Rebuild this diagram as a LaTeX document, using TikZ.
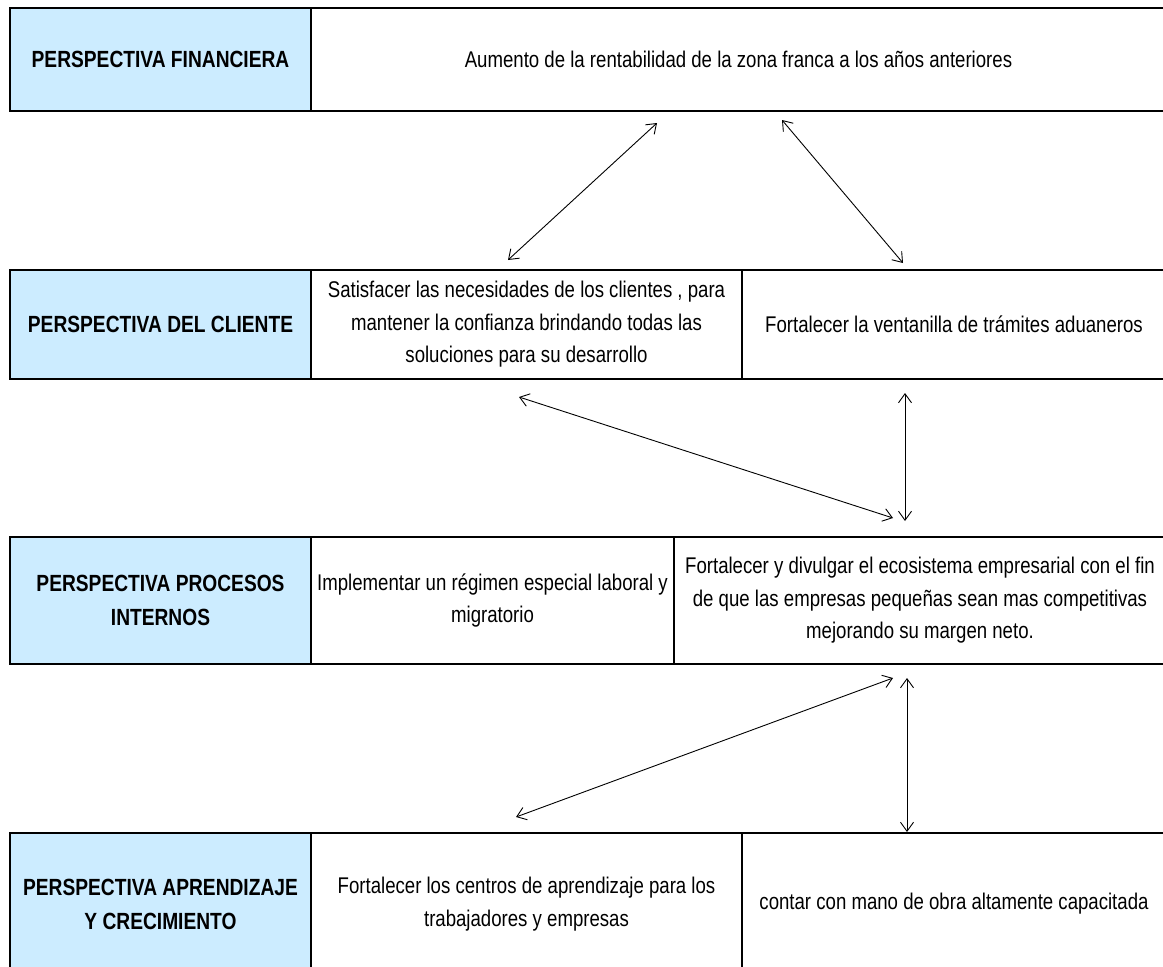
\documentclass[tikz,border=0pt]{standalone}
\usepackage{fontspec}
\setmainfont{Liberation Sans}[FakeStretch=0.82]
\usetikzlibrary{arrows.meta}
\definecolor{lblue}{RGB}{204,236,255}
\begin{document}
\begin{tikzpicture}[x=1pt,y=-1pt,
  cell/.style={draw=black, line width=2.2pt, inner sep=0pt, outer sep=0pt, anchor=north west, align=center, font=\fontsize{22.7}{32.5}\selectfont},
  lab/.style={cell, fill=lblue, font=\fontsize{23.4}{34}\selectfont\bfseries},
  link/.style={line width=0.9pt, {Straight Barb[length=9pt,width=13pt]}-{Straight Barb[length=9pt,width=13pt]}}]
\useasboundingbox[fill=white] (0,0) rectangle (1163,967);
% row 1
\node[lab, minimum width=301pt, minimum height=103pt] (fin) at (10,8) {PERSPECTIVA FINANCIERA};
\node[cell, minimum width=855pt, minimum height=103pt] (finA) at (311,8) {Aumento de la rentabilidad de la zona franca a los años anteriores};
% row 2
\node[lab, minimum width=301pt, minimum height=109pt] (cli) at (10,270) {PERSPECTIVA DEL CLIENTE};
\node[cell, minimum width=431pt, minimum height=109pt] (cliA) at (311,270) {Satisfacer las necesidades de los clientes , para\\mantener la confianza brindando todas las\\soluciones para su desarrollo};
\node[cell, minimum width=424pt, minimum height=109pt] (cliB) at (742,270) {Fortalecer la ventanilla de trámites aduaneros};
% row 3
\node[lab, minimum width=301pt, minimum height=127pt] (pro) at (10,537) {PERSPECTIVA PROCESOS\\INTERNOS};
\node[cell, minimum width=363pt, minimum height=127pt] (proA) at (311,537) {Implementar un régimen especial laboral y\\migratorio};
\node[cell, minimum width=492pt, minimum height=127pt] (proB) at (674,537) {Fortalecer y divulgar el ecosistema empresarial con el fin\\de que las empresas pequeñas sean mas competitivas\\mejorando su margen neto.};
% row 4
\node[lab, minimum width=301pt, minimum height=142pt] (apr) at (10,833) {PERSPECTIVA APRENDIZAJE\\Y CRECIMIENTO};
\node[cell, minimum width=431pt, minimum height=142pt] (aprA) at (311,833) {Fortalecer los centros de aprendizaje para los\\trabajadores y empresas};
\node[cell, minimum width=424pt, minimum height=142pt] (aprB) at (742,833) {contar con mano de obra altamente capacitada};
% connector ends
\coordinate (pA1) at (508,260); \coordinate (pA2) at (657,123);
\coordinate (pB1) at (782,120); \coordinate (pB2) at (903,263);
\coordinate (pC1) at (519,397); \coordinate (pC2) at (893,518);
\coordinate (pD1) at (905,393); \coordinate (pD2) at (905,521);
\coordinate (pE1) at (893,678); \coordinate (pE2) at (516,817);
\coordinate (pF1) at (907,678); \coordinate (pF2) at (907,832);
\draw[link] (pA1) -- (pA2);
\draw[link] (pB1) -- (pB2);
\draw[link] (pC1) -- (pC2);
\draw[link] (pD1) -- (pD2);
\draw[link] (pE1) -- (pE2);
\draw[link] (pF1) -- (pF2);
\end{tikzpicture}
\end{document}
